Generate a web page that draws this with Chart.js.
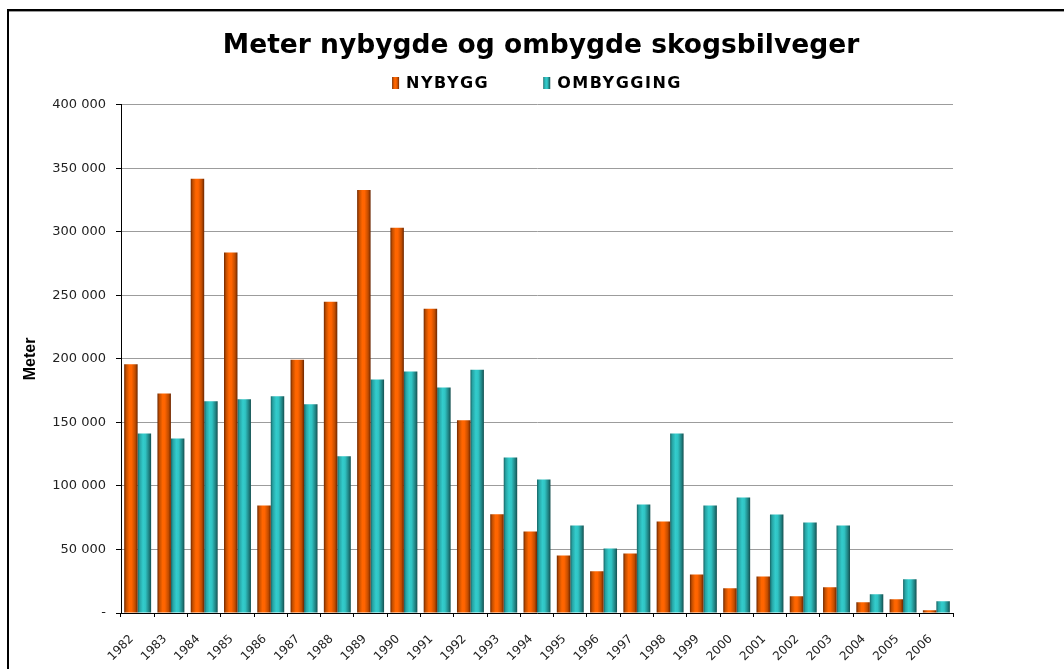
<!DOCTYPE html>
<html>
<head>
<meta charset="utf-8">
<script src="https://cdn.jsdelivr.net/npm/chart.js@4/dist/chart.umd.min.js"></script>
<style>
  html, body { margin: 0; padding: 0; background: #fff; }
  #wrap { width: 1064px; height: 669px; position: relative; }
</style>
</head>
<body>
<div id="wrap"><canvas id="veiChart" width="1064" height="669"></canvas></div>
<script>
const years = ['1982', '1983', '1984', '1985', '1986', '1987', '1988', '1989', '1990', '1991', '1992', '1993',
    '1994', '1995', '1996', '1997', '1998', '1999', '2000', '2001', '2002', '2003', '2004', '2005', '2006'];
const nybygg = [195700, 172700, 341700, 283700, 84600, 199400, 245000, 333000, 303200, 239500, 151700, 77800,
    64200, 45300, 32800, 46900, 72100, 30400, 19400, 28800, 13100, 20200, 8400, 10800, 2100];
const ombygging = [141200, 137300, 166600, 168200, 170600, 164300, 123400, 183700, 190000, 177400, 191500, 122400,
    105100, 68900, 50800, 85400, 141200, 84600, 90900, 77600, 71300, 68900, 14700, 26500, 9200];
const yTicks = [0, 50000, 100000, 150000, 200000, 250000, 300000, 350000, 400000];

// colour stops for the "cylinder" look of the bars (left -> right)
const orangeStops = [[0, '#6e2700'], [0.15, '#c24e00'], [0.38, '#ff6600'], [0.55, '#ff6400'], [0.82, '#c04c00'], [1, '#6a2500']];
const tealStops = [[0, '#176464'], [0.15, '#27a3a3'], [0.4, '#33cccc'], [0.58, '#30c3c3'], [0.85, '#1f7f7f'], [1, '#134f4f']];

function spaced(v) {
    if (v === 0) return '-';
    return String(v).replace(/\B(?=(\d{3})+(?!\d))/g, ' ');
}

function makeGrad(ctx, x0, x1, stops) {
    const g = ctx.createLinearGradient(x0, 0, x1, 0);
    stops.forEach(s => g.addColorStop(s[0], s[1]));
    return g;
}

// frame round the chart (top and left edge only, as in the original)
const framePlugin = {
    id: 'frame',
    beforeDraw(chart) {
        const ctx = chart.ctx;
        ctx.save();
        ctx.fillStyle = '#fff';
        ctx.fillRect(0, 0, chart.width, chart.height);
        ctx.fillStyle = '#000';
        ctx.fillRect(7, 9, chart.width - 7, 2);
        ctx.fillRect(7, 9, 2, chart.height - 9);
        ctx.fillStyle = '#9a9a9a';
        ctx.fillRect(9, 11, chart.width - 9, 1);
        ctx.restore();
    }
};

// shaded bars: gradient placed on every bar element after layout
const shadePlugin = {
    id: 'shade',
    beforeDatasetsDraw(chart) {
        const ctx = chart.ctx;
        chart.data.datasets.forEach((ds, i) => {
            const meta = chart.getDatasetMeta(i);
            meta.data.forEach(bar => {
                const p = bar.getProps(['x', 'width'], true);
                bar.options.backgroundColor = makeGrad(ctx, p.x - p.width / 2, p.x + p.width / 2, ds.stops);
            });
        });
    }
};

// legend drawn under the title, with wide spacing between the two entries
const legendPlugin = {
    id: 'wideLegend',
    afterDraw(chart) {
        const ctx = chart.ctx;
        const gap = 54, boxW = 7, boxH = 12, textGap = 7;
        ctx.save();
        ctx.font = 'bold 16px "DejaVu Sans"';
        ctx.letterSpacing = '1.5px';
        ctx.textBaseline = 'middle';
        const items = chart.data.datasets.map(ds => {
            const w = ctx.measureText(ds.label).width;
            return { ds, w, full: boxW + textGap + w };
        });
        const total = items.reduce((s, it) => s + it.full, 0) + gap * (items.length - 1);
        let x = (chart.chartArea.left + chart.chartArea.right) / 2 - total / 2;
        const y = 83;
        items.forEach(it => {
            ctx.fillStyle = makeGrad(ctx, x, x + boxW, it.ds.stops);
            ctx.fillRect(x, y - boxH / 2, boxW, boxH);
            ctx.fillStyle = '#000';
            ctx.fillText(it.ds.label, x + boxW + textGap, y + 1);
            x += it.full + gap;
        });
        ctx.restore();
    }
};

const ctx = document.getElementById('veiChart').getContext('2d');
const veiChart = new Chart(ctx, {
    type: 'bar',
    data: {
        labels: years,
        datasets: [{
            label: 'NYBYGG',
            data: nybygg,
            stops: orangeStops,
            backgroundColor: () => '#ff6600',
            categoryPercentage: 0.81,
            barPercentage: 1.0
        }, {
            label: 'OMBYGGING',
            data: ombygging,
            stops: tealStops,
            backgroundColor: () => '#33cccc',
            categoryPercentage: 0.81,
            barPercentage: 1.0
        }]
    },
    options: {
        responsive: false,
        animation: false,
        layout: { padding: { left: 18, right: 0, top: 10, bottom: 0 } },
        plugins: {
            legend: { display: false },
            tooltip: { enabled: false },
            title: {
                display: true,
                text: 'Meter nybygde og ombygde skogsbilveger',
                color: '#000',
                font: { family: '"DejaVu Sans"', size: 26.5, weight: 'bold' },
                padding: { top: 20, bottom: 43 }
            }
        },
        scales: {
            x: {
                grid: { display: true, drawOnChartArea: false, offset: true, tickLength: 4, tickColor: '#000' },
                border: { color: '#000', width: 1 },
                ticks: {
                    color: '#222',
                    font: { family: '"DejaVu Sans"', size: 12 },
                    minRotation: 45,
                    maxRotation: 45,
                    autoSkip: false,
                    labelOffset: -6,
                    padding: 15
                },
                afterFit(scale) { scale.height = 56; }
            },
            y: {
                min: 0,
                max: 400000,
                afterBuildTicks(scale) { scale.ticks = yTicks.map(v => ({ value: v })); },
                grid: { color: '#9c9c9c', lineWidth: 1, tickLength: 5, tickColor: '#000' },
                border: { color: '#000', width: 1 },
                ticks: {
                    color: '#222',
                    font: { family: '"DejaVu Sans"', size: 13 },
                    padding: 10,
                    callback: v => spaced(v)
                },
                title: {
                    display: true,
                    text: 'Meter',
                    color: '#000',
                    font: { family: '"Liberation Sans"', size: 16, weight: 'bold' },
                    padding: { top: 3, bottom: 0 }
                },
                afterFit(scale) { scale.width = 103; }
            },
            // empty axis on the right, only to keep the free margin the original has
            spacer: {
                type: 'linear',
                position: 'right',
                display: true,
                grid: { display: false, drawTicks: false },
                border: { display: false },
                ticks: { display: false },
                afterFit(scale) { scale.width = 111; }
            }
        }
    },
    plugins: [framePlugin, shadePlugin, legendPlugin]
});
</script>
</body>
</html>
